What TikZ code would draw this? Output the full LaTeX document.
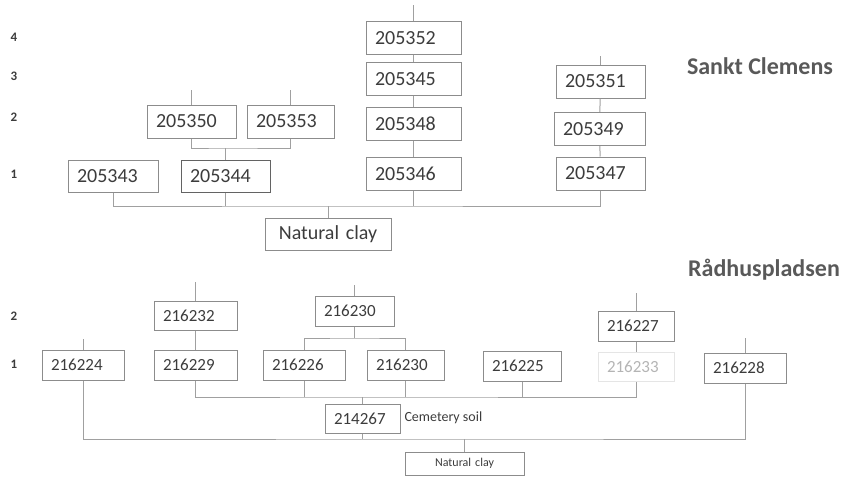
\documentclass[tikz,border=0pt]{standalone}
\usepackage{fontspec}
\setmainfont{Carlito}
\usepackage{tikz}
\usetikzlibrary{positioning}
\definecolor{ink}{HTML}{3C3C3C}
\definecolor{frameline}{HTML}{8C8C8C}
\definecolor{wire}{HTML}{A0A0A0}
\definecolor{ghost}{HTML}{B4B4B4}
\definecolor{title}{HTML}{595959}
\newcommand\fs[1]{\fontsize{#1}{#1}\selectfont}

\begin{document}
\begin{tikzpicture}[x=1pt,y=-1pt,line width=1pt]
\useasboundingbox (0,0) rectangle (842,477);

\tikzstyle{layer}=[
	draw=frameline,
	text=ink,
	align=left,
	inner xsep=9pt,
	inner ysep=0pt,
	anchor=center
]
\tikzstyle{big}=[layer,font=\fs{20},minimum height=33pt]
\tikzstyle{small}=[layer,font=\fs{17},minimum height=30pt]
\tikzstyle{lvl}=[font=\fs{13}\bfseries,text=ink]
\tikzstyle{site}=[font=\fs{24}\bfseries,text=title]
\tikzstyle{link}=[draw=wire]

%% LEVELS
\node[lvl] (t4) at (14,37) {4};
\node[lvl] (t3) at (14,76) {3};
\node[lvl] (t2) at (14,117) {2};
\node[lvl] (t1) at (14,174) {1};
\node[lvl] (b2) at (14,316) {2};
\node[lvl] (b1) at (14,364) {1};

%% SANKT CLEMENS
\node[site] (sankt) at (760,66) {Sankt Clemens};
\node (s205352) [big,text width=77pt] at (413.5,38) {205352};
\node (s205345) [big,text width=77pt] at (413.5,79) {205345};
\node (s205348) [big,text width=77pt] at (413.5,124) {205348};
\node (s205346) [big,text width=77pt] at (413.5,173.5) {205346};
\node (s205351) [big,text width=71pt] at (600.5,81.5) {205351};
\node (s205349) [big,text width=73pt] at (599.5,129) {205349};
\node (s205347) [big,text width=71pt] at (600.5,173.5) {205347};
\node (s205350) [big,text width=71pt] at (191.5,121.5) {205350};
\node (s205353) [big,text width=69pt] at (290.5,121.5) {205353};
\node (s205343) [big,text width=72pt,minimum height=32pt] at (113,176) {205343};
\node (s205344) [big,text width=71pt,minimum height=32pt,draw=ink!80] at (225.5,176) {205344};
\node (sclay) [big,text width=108pt,minimum height=32pt,align=center] at (328,234) {Natural clay};

\foreach \n/\h in {s205352/16,s205351/9,s205350/15,s205353/15}
	\draw[link] (\n.north) -- ++(0,-\h) coordinate (\n-top);
\draw[link] (s205352) -- (s205345) -- (s205348) -- (s205346);
\draw[link] (s205351) -- (s205349) -- (s205347);

\coordinate (jointA) at (225.5,148);
\draw[link] (s205350.south) |- (jointA) -| (s205353.south);
\draw[link] (jointA) -- (s205344.north);

\coordinate (busA) at (328,206);
\draw[link] (s205343.south) |- (busA) -| (s205347.south);
\draw[link] (s205344.south) -- (s205344.south |- busA);
\draw[link] (s205346.south) -- (s205346.south |- busA);
\draw[link] (busA) -- (sclay.north);

%% RAADHUSPLADSEN
\node[site] (raad) at (764,270) {Rådhuspladsen};
\node (r216232) [small,text width=65pt,minimum height=29pt] at (195.5,315.5) {216232};
\node (r216230a) [small,text width=61pt] at (354.5,311) {216230};
\node (r216224) [small,text width=64pt] at (83,365) {216224};
\node (r216229) [small,text width=65pt] at (195.5,365) {216229};
\node (r216226) [small,text width=64pt] at (304,365) {216226};
\node (r216230b) [small,text width=59pt] at (405.5,365) {216230};
\node (r216225) [small,text width=60pt] at (522,366) {216225};
\node (r216233) [small,text width=58pt,minimum height=29pt,draw=black!10,text=ghost] at (636,366.5) {216233};
\node (r216227) [small,text width=58pt] at (636,326) {216227};
\node (r216228) [small,text width=64pt] at (745,368) {216228};
\node (r214267) [small,text width=57pt,minimum height=29pt] at (362.5,418.5) {214267};
\node (rsoil) [font=\fs{14},text=ink,anchor=west,inner sep=0pt] at (404,418) {Cemetery soil};
\node (rclay) [layer,font=\fs{12},text width=101pt,minimum height=23pt,align=center] at (464.5,463.5) {Natural clay};

\foreach \n/\h in {r216232/19,r216230a/11,r216224/11,r216227/18,r216228/15}
	\draw[link] (\n.north) -- ++(0,-\h) coordinate (\n-top);
\draw[link] (r216232) -- (r216229);
\draw[link] (r216227) -- (r216233);

\coordinate (jointB) at (354.5,338);
\draw[link] (r216226.north) |- (jointB) -| (r216230b.north);
\draw[link] (r216230a.south) -- (jointB);

\coordinate (busB) at (362.5,397);
\draw[link] (r216229.south) |- (busB) -| (r216233.south);
\foreach \n in {r216226,r216230b,r216225}
	\draw[link] (\n.south) -- (\n.south |- busB);
\draw[link] (busB) -- (r214267.north);

\coordinate (busC) at (464.5,439);
\draw[link] (r216224.south) |- (busC) -| (r216228.south);
\draw[link] (r214267.south) -- (r214267.south |- busC);
\draw[link] (busC) -- (rclay.north);

\end{tikzpicture}
\end{document}
